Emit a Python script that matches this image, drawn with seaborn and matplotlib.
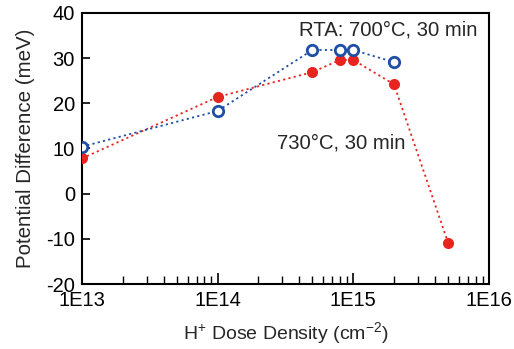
import matplotlib
matplotlib.use("Agg")
import matplotlib.pyplot as plt
from matplotlib.ticker import FixedLocator, NullFormatter
import seaborn as sns
import pandas as pd

# H+ dose (cm^-2) and potential difference (meV)
dose_700 = [1e13, 1e14, 5e14, 8e14, 1e15, 2e15]
pd_700 = [10.4, 18.3, 31.8, 31.8, 31.8, 29.1]

dose_730 = [1e13, 1e14, 5e14, 8e14, 1e15, 2e15, 5e15]
pd_730 = [7.8, 21.4, 26.9, 29.6, 29.6, 24.2, -10.8]

xticks = [1e13, 1e14, 1e15, 1e16]
xtick_labels = ["1E13", "1E14", "1E15", "1E16"]
yticks = [-20, -10, 0, 10, 20, 30, 40]

blue = "#1f4fa5"
red = "#e8241f"

sns.set_style("ticks")
plt.rcParams['font.family'] = ['Liberation Sans', 'DejaVu Sans']
plt.rcParams['mathtext.fontset'] = 'custom'
plt.rcParams['mathtext.rm'] = 'Liberation Sans'
plt.rcParams['mathtext.it'] = 'Liberation Sans'
plt.rcParams['axes.unicode_minus'] = False

f = plt.figure(figsize=(5.14, 3.49), dpi=100)
ax = f.add_axes([0.1595, 0.186, 0.7915, 0.777])

df700 = pd.DataFrame({"dose": dose_700, "pd": pd_700})
df730 = pd.DataFrame({"dose": dose_730, "pd": pd_730})

sns.lineplot(data=df730, x="dose", y="pd", ax=ax, color=red, linestyle=(0, (1.2, 1.8)),
             linewidth=1.3, marker="o", markersize=8, markerfacecolor=red,
             markeredgecolor=red, markeredgewidth=0, zorder=3)
sns.lineplot(data=df700, x="dose", y="pd", ax=ax, color=blue, linestyle=(0, (1.2, 1.8)),
             linewidth=1.3, marker="o", markersize=7.5, markerfacecolor="white",
             markeredgecolor=blue, markeredgewidth=2, zorder=4)

ax.set_xscale("log")
ax.set_xlim(1e13, 1e16)
ax.set_ylim(-20, 40)
ax.set_xticks(xticks)
ax.set_xticklabels(xtick_labels)
minor = [m * d for d in xticks[:-1] for m in range(2, 10)]
ax.xaxis.set_minor_locator(FixedLocator(minor))
ax.xaxis.set_minor_formatter(NullFormatter())
ax.set_yticks(yticks)

for s in ax.spines.values():
    s.set_linewidth(1.5)
    s.set_color("black")

ax.tick_params(axis="both", which="major", direction="in", length=6, width=1.2,
               labelsize=14.5, colors="black")
ax.tick_params(axis="y", which="major", pad=5)
ax.tick_params(axis="x", which="major", pad=5, length=8)
ax.tick_params(axis="x", which="minor", direction="in", length=6, width=1.0,
               color="black", bottom=True)

ax.set_xlabel(r"H$^{+}$ Dose Density (cm$^{-2}$)", fontsize=14, labelpad=7)
ax.set_ylabel("Potential Difference (meV)", fontsize=14.8, labelpad=8)

ax.text(0.971, 0.937, "RTA: 700\u00b0C, 30 min", transform=ax.transAxes,
        ha="right", va="center", fontsize=14.6)
ax.text(0.794, 0.52, "730\u00b0C, 30 min", transform=ax.transAxes,
        ha="right", va="center", fontsize=14.6)

plt.savefig("out.png", dpi=100)
